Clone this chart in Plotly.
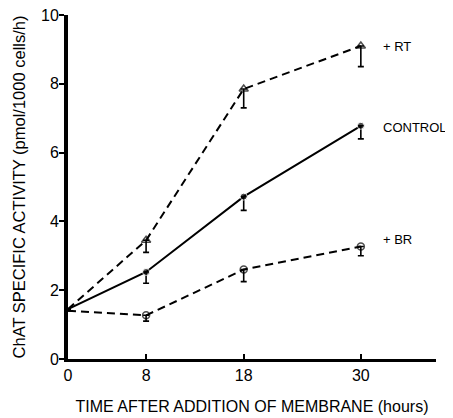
import plotly.graph_objects as go

hours = [0, 8, 18, 30]
rt = [1.45, 3.45, 7.85, 9.1]
rt_err = [0, 0.35, 0.55, 0.6]
control = [1.45, 2.53, 4.72, 6.78]
control_err = [0, 0.33, 0.4, 0.38]
br = [1.4, 1.27, 2.6, 3.27]
br_err = [0, 0.17, 0.35, 0.27]
x_ticks = [0, 8, 18, 30]
y_ticks = [0, 2, 4, 6, 8, 10]
label_text = ["+ RT", "CONTROL", "+ BR"]
label_y = [9.07, 6.74, 3.46]

FONT = "Liberation Sans, Arial, sans-serif"

def err(vals):
    return dict(type="data", symmetric=False, array=[0] * len(vals), arrayminus=vals,
                color="black", thickness=1.6, width=3)

fig = go.Figure()
fig.add_trace(go.Scatter(x=hours, y=rt, mode="lines+markers",
                         line=dict(color="black", width=2, dash="8px,5px"),
                         marker=dict(symbol="triangle-up-open", size=[0, 8, 8, 8], color="black", line=dict(width=1.5)),
                         error_y=err(rt_err), cliponaxis=False))
fig.add_trace(go.Scatter(x=hours, y=control, mode="lines+markers",
                         line=dict(color="black", width=2),
                         marker=dict(symbol="circle", size=[0, 7, 7, 7], color="black"),
                         error_y=err(control_err), cliponaxis=False))
fig.add_trace(go.Scatter(x=hours, y=br, mode="lines+markers",
                         line=dict(color="black", width=2, dash="8px,5px"),
                         marker=dict(symbol="circle-open", size=[0, 7, 7, 7], color="black", line=dict(width=1.5)),
                         error_y=err(br_err), cliponaxis=False))

for txt, yv in zip(label_text, label_y):
    fig.add_annotation(x=32.05, y=yv, text=txt, showarrow=False, xanchor="left",
                       font=dict(family=FONT, size=13, color="black"))

fig.update_layout(
    width=445, height=410,
    margin=dict(l=60, r=17, t=7, b=59, autoexpand=False),
    paper_bgcolor="white", plot_bgcolor="white",
    showlegend=False,
    font=dict(family=FONT, size=14, color="black"),
)
fig.update_xaxes(range=[0, 37.7], tickvals=x_ticks, ticktext=[str(v) for v in x_ticks],
                 showline=True, linecolor="black", linewidth=3, ticks="inside", ticklen=5,
                 tickwidth=1.5, tickcolor="black", showgrid=False, zeroline=False,
                 tickfont=dict(size=16), automargin=False, ticklabeloverflow="allow",
                 title=dict(text="TIME AFTER ADDITION OF MEMBRANE (hours)", font=dict(size=16), standoff=18))
fig.update_yaxes(range=[0, 10], tickvals=y_ticks,
                 showline=True, linecolor="black", linewidth=4, ticks="outside", ticklen=5,
                 tickwidth=1.5, tickcolor="black", showgrid=False, zeroline=False,
                 tickfont=dict(size=16), automargin=False, ticklabeloverflow="allow",
                 ticklabelstandoff=-3,
                 title=dict(text="ChAT SPECIFIC ACTIVITY (pmol/1000 cells/h)", font=dict(size=16.5), standoff=12))

fig.write_html("out.html")
